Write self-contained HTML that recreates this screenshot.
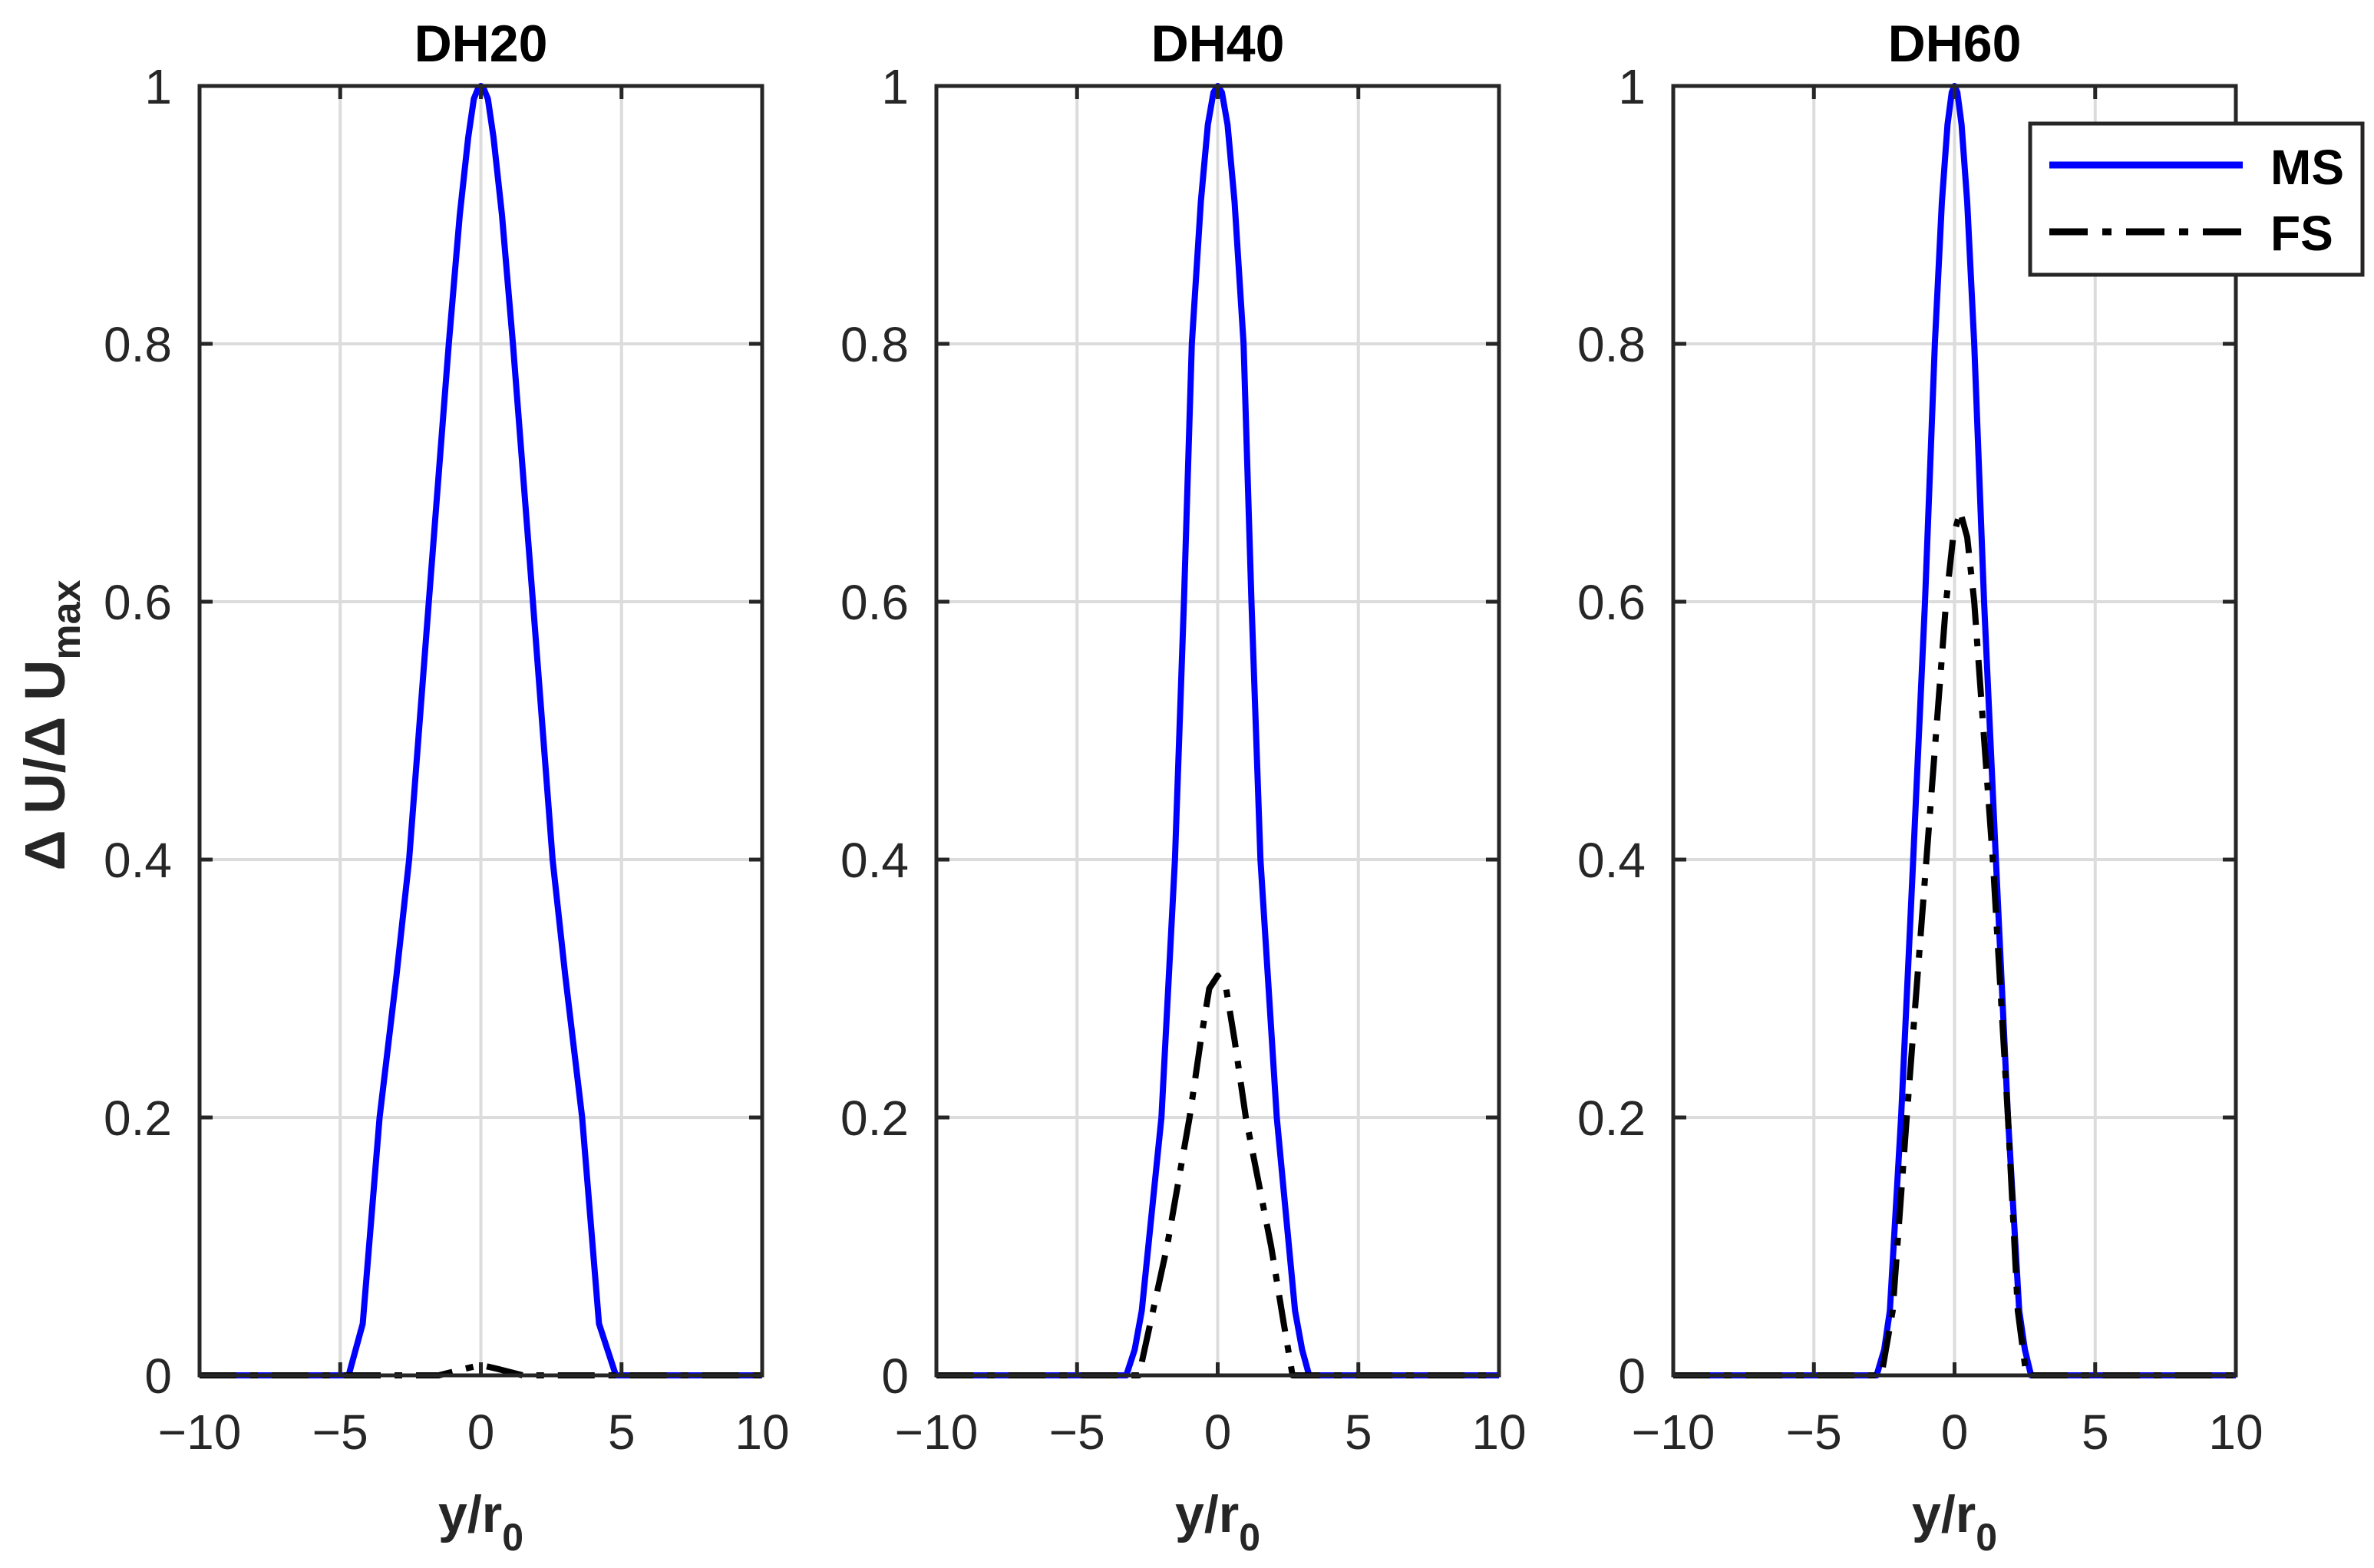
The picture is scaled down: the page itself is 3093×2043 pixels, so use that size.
<!DOCTYPE html>
<html><head><meta charset="utf-8"><style>
html,body{margin:0;padding:0;background:#fff}
svg{display:block;font-family:"Liberation Sans",sans-serif}
</style></head><body>
<svg id="chart" width="3093" height="2043" viewBox="0 0 3093 2043" xmlns="http://www.w3.org/2000/svg"></svg>
<script>
const titles = ["DH20","DH40","DH60"];
const xTicks = [-10,-5,0,5,10];
const yTicks = [0,0.2,0.4,0.6,0.8,1];
const yTickLabels = ["0","0.2","0.4","0.6","0.8","1"];
const msX1 = [-10,-4.7,-4.2,-3.6,-3.0,-2.55,-1.85,-1.14,-0.75,-0.45,-0.25,-0.1,0,0.1,0.25,0.45,0.75,1.14,1.85,2.55,3.0,3.6,4.2,4.8,10];
const msY1 = [0,0,0.04,0.2,0.31,0.4,0.6,0.8,0.9,0.96,0.99,0.998,1,0.998,0.99,0.96,0.9,0.8,0.6,0.4,0.31,0.2,0.04,0,0];
const fsX1 = [-10,-1.5,-0.6,0,0.6,1.5,10];
const fsY1 = [0,0,0.005,0.008,0.005,0,0];
const msX2 = [-10,-3.25,-2.95,-2.7,-2.0,-1.52,-1.2,-0.92,-0.6,-0.35,-0.15,0,0.15,0.35,0.6,0.92,1.2,1.52,2.1,2.75,3.0,3.25,10];
const msY2 = [0,0,0.02,0.05,0.2,0.4,0.6,0.8,0.91,0.97,0.995,1,0.995,0.97,0.91,0.8,0.6,0.4,0.2,0.05,0.02,0,0];
const fsX2 = [-10,-2.8,-2.4,-1.8,-1.0,-0.6,-0.3,0,0.3,0.6,1.0,1.9,2.35,2.66,10];
const fsY2 = [0,0,0.04,0.1,0.2,0.26,0.3,0.31,0.3,0.26,0.2,0.1,0.04,0,0];
const msX3 = [-10,-2.77,-2.5,-2.3,-1.9,-1.47,-1.05,-0.7,-0.45,-0.25,-0.1,0,0.1,0.25,0.45,0.7,1.05,1.47,1.9,2.3,2.5,2.72,10];
const msY3 = [0,0,0.02,0.05,0.2,0.4,0.6,0.8,0.91,0.97,0.995,1,0.995,0.97,0.91,0.8,0.6,0.4,0.2,0.05,0.02,0,0];
const fsX3 = [-10,-2.6,-2.2,-1.7,-1.0,-0.3,-0.05,0.2,0.45,0.7,1.36,1.9,2.25,2.55,10];
const fsY3 = [0,0,0.05,0.2,0.4,0.6,0.65,0.67,0.65,0.6,0.4,0.2,0.05,0,0];
const msSeries = [[msX1,msY1],[msX2,msY2],[msX3,msY3]];
const fsSeries = [[fsX1,fsY1],[fsX2,fsY2],[fsX3,fsY3]];

const svg = document.getElementById('chart');
const NS = "http://www.w3.org/2000/svg";
function mk(tag, attrs, parent){const e=document.createElementNS(NS,tag);for(const k in attrs)e.setAttribute(k,attrs[k]);(parent||svg).appendChild(e);return e;}
const panelLeft=[260,1220,2180], W=733, plotTop=112, plotBottom=1792;
function sx(p,v){return panelLeft[p]+(v+10)/20*W;}
function sy(v){return plotBottom-(v)*(plotBottom-plotTop);}

for(let p=0;p<3;p++){
  const g=mk('g',{});
  
  
  const L=panelLeft[p], R=L+W;
  xTicks.forEach(t=>{const l=mk('line',{x1:sx(p,t),x2:sx(p,t),y1:plotTop,y2:plotBottom,stroke:'#dcdcdc','stroke-width':4},g);
    
    });
  yTicks.forEach(t=>{const l=mk('line',{x1:L,x2:R,y1:sy(t),y2:sy(t),stroke:'#dcdcdc','stroke-width':4},g);
    
    });
  const ms=msSeries[p], fs=fsSeries[p];
  const m=mk('polyline',{points:ms[0].map((x,i)=>sx(p,x)+','+sy(ms[1][i])).join(' '),fill:'none',stroke:'#0000ff','stroke-width':8,'stroke-linejoin':'round'},g);
  
  
  const f=mk('polyline',{points:fs[0].map((x,i)=>sx(p,x)+','+sy(fs[1][i])).join(' '),fill:'none',stroke:'#000','stroke-width':8,'stroke-dasharray':'48 18 10 18','stroke-linejoin':'round'},g);
  
  
  const b=mk('rect',{x:L,y:plotTop,width:W,height:plotBottom-plotTop,fill:'none',stroke:'#262626','stroke-width':5},g);
  
  
  xTicks.forEach((t,i)=>{
    mk('line',{x1:sx(p,t),x2:sx(p,t),y1:plotBottom,y2:plotBottom-17,stroke:'#262626','stroke-width':5},g);
    mk('line',{x1:sx(p,t),x2:sx(p,t),y1:plotTop,y2:plotTop+17,stroke:'#262626','stroke-width':5},g);
    const tx=mk('text',{x:sx(p,t),y:1888,'text-anchor':'middle','font-size':64,fill:'#262626'},g);
    tx.textContent=(t<0?'\u2212':'')+Math.abs(t);
    
    
  });
  yTicks.forEach((t,i)=>{
    mk('line',{x1:L,x2:L+17,y1:sy(t),y2:sy(t),stroke:'#262626','stroke-width':5},g);
    mk('line',{x1:R,x2:R-17,y1:sy(t),y2:sy(t),stroke:'#262626','stroke-width':5},g);
    const ty=mk('text',{x:L-36,y:sy(t)+23,'text-anchor':'end','font-size':64,fill:'#262626'},g);
    ty.textContent=yTickLabels[i];
    
    
  });
  const tt=mk('text',{x:L+W/2,y:80,'text-anchor':'middle','font-size':68,'font-weight':'bold',fill:'#000'},g);
  tt.textContent=titles[p];
  
  
  const xl=mk('text',{x:L+W/2,y:1996,'text-anchor':'middle','font-size':68,'font-weight':'bold',fill:'#262626'},g);
  
  
  xl.innerHTML='y/r<tspan dy="24" font-size="50">0</tspan>';
}
const yl=mk('text',{transform:'translate(84,945) rotate(-90)','text-anchor':'middle','font-size':74,'font-weight':'bold',fill:'#262626'});


yl.innerHTML='Δ U/Δ U<tspan dy="20" font-size="52">max</tspan>';

const lg=mk('g',{});


mk('rect',{x:2645,y:161,width:433,height:197,fill:'#fff',stroke:'#262626','stroke-width':5},lg);
const e1=mk('g',{},lg);


mk('line',{x1:2670,x2:2922,y1:215,y2:215,stroke:'#0000ff','stroke-width':9},e1);
const t1=mk('text',{x:2958,y:240,'font-size':64,'font-weight':'bold',fill:'#000'},e1);t1.textContent='MS';
const e2=mk('g',{},lg);


mk('line',{x1:2670,x2:2922,y1:302,y2:302,stroke:'#000','stroke-width':9,'stroke-dasharray':'50 19 12 19'},e2);
const t2=mk('text',{x:2958,y:326,'font-size':64,'font-weight':'bold',fill:'#000'},e2);t2.textContent='FS';
</script>
</body></html>
